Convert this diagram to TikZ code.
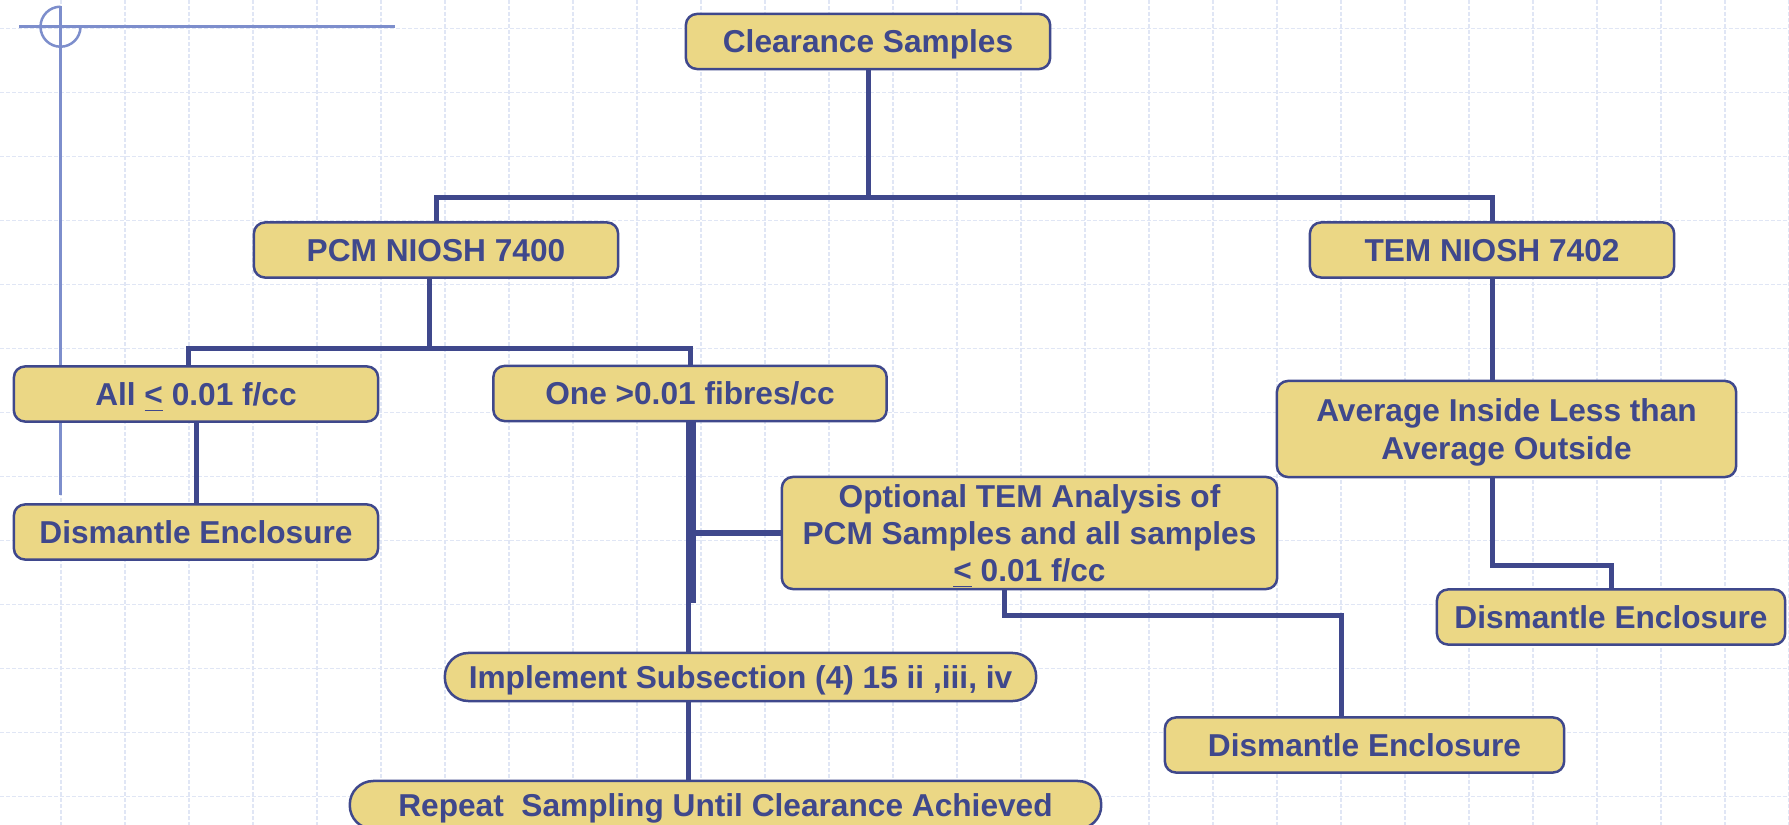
\documentclass[tikz,border=0pt]{standalone}
\usepackage{fontspec}
\setmainfont{Liberation Sans}
\definecolor{navy}{HTML}{3F488C}
\definecolor{gold}{HTML}{EBD785}
\definecolor{crossblue}{HTML}{7D8ECC}
\definecolor{gridblue}{HTML}{E0E6F5}

\begin{document}
\begin{tikzpicture}[x=0.01cm,y=-0.01cm,
   box/.style={draw=navy,fill=gold,line width=0.025cm,rounded corners=0.11cm,
      text=navy,font=\bfseries\fontsize{9}{10.6}\selectfont,align=center,
      inner sep=0pt,minimum height=0.55cm,text depth=0pt},
   pill/.style={box,rounded corners=0.235cm,minimum height=0.48cm},
   link/.style={draw=navy,line width=0.05cm},
   grid line/.style={draw=gridblue,line width=0.012cm,dash pattern=on 0.04cm off 0.02cm},
   cross/.style={draw=crossblue,line width=0.025cm}]
   \clip (0,0) rectangle (1789,825);
   \fill[white] (0,0) rectangle (1789,825);
   % background paper
   \foreach \x in {-3,61,...,1800} \draw[grid line] (\x,0) -- (\x,825);
   \foreach \y in {28.5,92.5,...,830} \draw[grid line] (0,\y) -- (1789,\y);
   \draw[cross] (19,26.7) -- (395,26.7);
   \draw[cross] (60.5,6) -- (60.5,495);
   \draw[cross] (60.5,6.7) arc[start angle=90,end angle=360,radius=0.2cm];

   % boxes
   \node[box,minimum width=3.64cm] (clear) at (868,41.5) {Clearance Samples};
   \node[box,minimum width=3.64cm] (pcm)   at (436,250) {PCM NIOSH 7400};
   \node[box,minimum width=3.64cm] (tem)   at (1492,250) {TEM NIOSH 7402};
   \node[box,minimum width=3.64cm] (all)   at (196,394) {All \underline{<} 0.01 f/cc};
   \node[box,minimum width=3.93cm] (one)   at (690,393.5) {One >0.01 fibres/cc};
   \node[box,minimum width=3.64cm] (dis1)  at (196,532) {Dismantle Enclosure};
   \node[box,minimum width=4.95cm,minimum height=1.12cm] (opt) at (1029.5,533)
      {Optional TEM Analysis of\\PCM Samples and all samples\\\underline{<} 0.01 f/cc};
   \node[box,minimum width=4.59cm,minimum height=0.96cm] (avg) at (1506.5,429)
      {Average Inside Less than\\Average Outside};
   \node[box,minimum width=3.48cm] (dis3)  at (1611,617) {Dismantle Enclosure};
   \node[box,minimum width=3.99cm] (dis2)  at (1364.5,745) {Dismantle Enclosure};
   \node[pill,minimum width=5.91cm] (impl) at (740.5,677) {Implement Subsection (4) 15 ii ,iii, iv};
   \node[pill,minimum width=7.51cm] (rep)  at (725.5,805) {Repeat\ \ Sampling Until Clearance Achieved};

   % connectors
   \coordinate (top) at (868,198);
   \coordinate (split) at (429,349);
   \coordinate (branch) at (693,603);
   \coordinate (elbow) at (1341,615);
   \coordinate (elbowr) at (1611,565);
   \draw[link] (clear.south) -- (top);
   \draw[link] (pcm.north) |- (top) -| (tem.north);
   \draw[link] (pcm.south -| split) -- (split);
   \draw[link] (all.north -| 188,0) |- (split) -| (one.north);
   \draw[link] (all) -- (dis1);
   \draw[link] (one.south -| 688,0) -- (impl.north -| 688,0);
   \draw[link] (one.south -| branch) -- (branch);
   \draw[link] (opt.west) -- (opt.west -| 688,0);
   \draw[link] (opt.south -| 1004,0) |- (elbow) -- (elbow |- dis2.north);
   \draw[link] (impl.south -| 688,0) -- (rep.north -| 688,0);
   \draw[link] (tem.south) -- (avg.north -| tem.south);
   \draw[link] (avg.south -| tem.south) |- (elbowr) -- (dis3.north);
\end{tikzpicture}
\end{document}
